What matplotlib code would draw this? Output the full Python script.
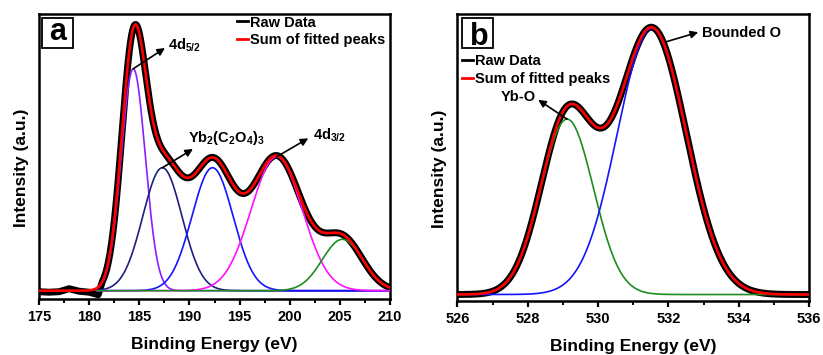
import numpy as np
import matplotlib.pyplot as plt
from matplotlib.patches import Rectangle
from matplotlib.ticker import MultipleLocator

plt.rcParams['font.family'] = ['Liberation Sans', 'DejaVu Sans']
plt.rcParams['font.weight'] = 'bold'
plt.rcParams['axes.labelweight'] = 'bold'
plt.rcParams['mathtext.fontset'] = 'custom'
plt.rcParams['mathtext.bf'] = 'Liberation Sans:bold'
plt.rcParams['mathtext.rm'] = 'Liberation Sans:bold'
plt.rcParams['mathtext.default'] = 'bf'

# ---- panel a: Yb 4d region (peak centre eV, height a.u., sigma eV) ----
a_names = ['4d5/2', 'Yb2(C2O4)3', 'mid', '4d3/2', 'sat']
a_centers = [184.4, 187.3, 192.3, 198.7, 205.25]
a_heights = [222, 123, 123, 134, 51.4]
a_sigmas = [1.2, 1.95, 2.05, 2.55, 2.0]
a_colors = ['#8a1eff', '#1f1f80', '#1414ff', '#ff10ff', '#1f8c1f']
a_comp_start = 180.8
# raw-data baseline before the onset (eV, intensity)
a_raw_pre_x = [175, 176, 177, 178, 179, 180, 180.9]
a_raw_pre_y = [-1, -1.5, -1, 2, -0.5, -1.5, -4]

# ---- panel b: O 1s region ----
b_centers = [529.12, 531.53]
b_heights = [175.7, 266.7]
b_sigmas = [0.75, 0.98]
b_colors = ['#1f8c1f', '#1414ff']


def gauss(x, c, h, s):
    return h * np.exp(-(x - c) ** 2 / (2 * s ** 2))


fig = plt.figure(figsize=(8.23, 3.55), dpi=100)
ax1 = fig.add_axes([0.0474, 0.1577, 0.4265, 0.8028])
ax2 = fig.add_axes([0.5557, 0.1521, 0.4273, 0.8085])

# panel a curves
xa = np.linspace(175, 210, 1401)
comps_a = [gauss(xa, c, h, s) for c, h, s in zip(a_centers, a_heights, a_sigmas)]
sum_a = np.sum(comps_a, axis=0)
mask = xa >= a_comp_start
raw_x = np.concatenate([a_raw_pre_x, xa[xa >= 181.3]])
raw_y = np.concatenate([a_raw_pre_y, sum_a[xa >= 181.3]])

ax1.plot(raw_x, raw_y, color='black', lw=5, zorder=2, solid_capstyle='round')
for comp, col in zip(comps_a, a_colors):
    ax1.plot(xa[mask], comp[mask], color=col, lw=1.2, zorder=3)
ax1.plot(xa, sum_a, color='#ff0000', lw=1.9, zorder=4)
ax1.plot([], [], color='black', lw=2, label='Raw Data')
ax1.plot([], [], color='#ff0000', lw=2, label='Sum of fitted peaks')

ax1.set_xlim(175, 210)
ax1.set_ylim(-8.3, 276.7)
ax1.xaxis.set_major_locator(MultipleLocator(5))
ax1.xaxis.set_minor_locator(MultipleLocator(2.5))

arrow = dict(arrowstyle='-|>', color='black', lw=1.2, mutation_scale=11, shrinkA=0, shrinkB=0)
ax1.annotate('', xy=(187.56, 242.7), xytext=(a_centers[0], a_heights[0]), arrowprops=arrow, zorder=6)
ax1.text(187.86, 240.7, r'4d$_{5/2}$', fontsize=10.5, ha='left', va='baseline')
ax1.annotate('', xy=(190.35, 141.7), xytext=(a_centers[1], a_heights[1]), arrowprops=arrow, zorder=6)
ax1.text(189.9, 149, r'Yb$_2$(C$_2$O$_4$)$_3$', fontsize=10.5, ha='left', va='baseline')
ax1.annotate('', xy=(201.85, 152.4), xytext=(a_centers[3], a_heights[3]), arrowprops=arrow, zorder=6)
ax1.text(202.35, 150.7, r'4d$_{3/2}$', fontsize=10.5, ha='left', va='baseline')

# panel b curves
xb = np.linspace(526, 536, 801)
comps_b = [gauss(xb, c, h, s) for c, h, s in zip(b_centers, b_heights, b_sigmas)]
sum_b = np.sum(comps_b, axis=0)
ax2.plot(xb, sum_b, color='black', lw=5, zorder=2)
for comp, col in zip(comps_b, b_colors):
    ax2.plot(xb, comp, color=col, lw=1.2, zorder=3)
ax2.plot(xb, sum_b, color='#ff0000', lw=1.9, zorder=4)
ax2.plot([], [], color='black', lw=2, label='Raw Data')
ax2.plot([], [], color='#ff0000', lw=2, label='Sum of fitted peaks')

ax2.set_xlim(526, 536)
ax2.set_ylim(-6.5, 281)
ax2.xaxis.set_major_locator(MultipleLocator(2))
ax2.xaxis.set_minor_locator(MultipleLocator(1))

ax2.annotate('', xy=(532.85, 262.7), xytext=(531.95, 253.3), arrowprops=arrow, zorder=6)
ax2.text(532.95, 257.7, 'Bounded O', fontsize=10.5, ha='left', va='baseline')
ax2.annotate('', xy=(528.3, 195), xytext=(b_centers[0], b_heights[0]), arrowprops=arrow, zorder=6)
ax2.text(528.22, 194, 'Yb-O', fontsize=10.5, ha='right', va='baseline')

for ax, label, box_x, txt_x, txt_y, leg_anchor in [
        (ax1, 'a', 0.0085, 0.0527, 0.909, (0.555, 1.005)),
        (ax2, 'b', 0.0125, 0.0617, 0.892, (0.005, 0.87))]:
    for sp in ax.spines.values():
        sp.set_linewidth(1.8)
    ax.set_yticks([])
    ax.tick_params(axis='x', which='major', direction='out', length=4.5, width=1.6,
                   labelsize=10.5, pad=3.5)
    ax.tick_params(axis='x', which='minor', direction='out', length=3, width=1.4)
    ax.set_xlabel('Binding Energy (eV)', fontsize=12.5, labelpad=9)
    ax.set_ylabel('Intensity (a.u.)', fontsize=12.5, labelpad=7.5)
    ax.yaxis.label.set_y(0.46)
    ax.add_patch(Rectangle((box_x, 0.881), 0.088, 0.105, transform=ax.transAxes,
                           fill=False, lw=1.3, edgecolor='black', zorder=7))
    ax.text(txt_x, txt_y, label, transform=ax.transAxes, fontsize=22,
            ha='center', va='baseline', zorder=8)
    ax.legend(loc='upper left', bbox_to_anchor=leg_anchor, frameon=False,
              handlelength=0.75, handletextpad=0.15, labelspacing=0.25,
              borderpad=0.2, borderaxespad=0, prop={'size': 10.5, 'weight': 'bold'})

plt.savefig('out.png', dpi=100)
